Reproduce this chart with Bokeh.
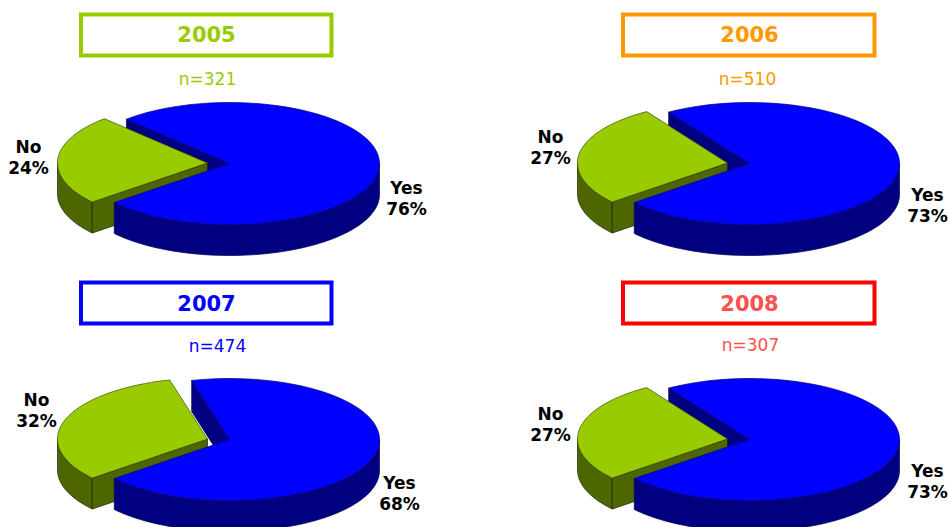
import numpy as np
from bokeh.core.properties import value
from bokeh.embed import file_html
from bokeh.models import Range1d
from bokeh.plotting import figure
from bokeh.resources import INLINE

# data
years = ["2005", "2006", "2007", "2008"]
counts = [321, 510, 474, 307]
yes_pct = [76, 73, 68, 73]
no_pct = [24, 27, 32, 27]

# styles
box_colors = ["#99CC00", "#FF9900", "#0000FF", "#FF0000"]
text_colors = ["#99CC00", "#FF9900", "#0000FF", "#FF5050"]
BLUE, NAVY, GREEN, OLIVE = "#0000FF", "#000080", "#99CC00", "#4D6600"
FONT = value("DejaVu Sans")

# layout (page pixels)
centers_x = [229, 749, 229, 749]
centers_y = [163, 163, 439, 439]
box_x = [(78.5, 333), (620.5, 876), (78.5, 333), (620.5, 876)]
box_y = [(12, 57), (12, 57), (280, 325), (280, 325)]
title_xy = [(206, 33.5), (749, 33.5), (206, 302.5), (749, 302.5)]
n_xy = [(207, 78), (747, 78), (217, 345), (750, 344)]
no_xy = [(28, 146.5), (550, 136.5), (36, 399.5), (550, 413.5)]
yes_xy = [(406, 187.5), (927, 194.5), (399, 482.5), (927, 470.5)]
RX, RY, DEPTH = 150, 61, 31
TIP_DX, TIP_DY = -22, -0.5
CUT = 219.8  # angle where the Yes slice begins, degrees

p = figure(width=949, height=527, output_backend="svg", toolbar_location=None,
           x_range=Range1d(0, 949), y_range=Range1d(527, 0), min_border=0)
p.axis.visible = False
p.grid.visible = False
p.outline_line_color = None
p.styles = {"position": "absolute", "left": "0px", "top": "0px"}


def arc(cx, cy, a0, a1, drop=0.0):
    t = np.radians(np.linspace(a0, a1, 80))
    return cx + RX * np.cos(t), cy - RY * np.sin(t) + drop


def poly(xs, ys, fill, line):
    p.patch(list(xs), list(ys), fill_color=fill, line_color=line, line_width=0.7)


for i in range(4):
    cx, cy = centers_x[i], centers_y[i]
    tx, ty = cx + TIP_DX, cy + TIP_DY
    no_start = CUT - no_pct[i] * 3.6
    yes_end = no_start + 360.0

    # inner face of the Yes slice, seen through the gap
    ex = cx + RX * np.cos(np.radians(no_start))
    ey = cy - RY * np.sin(np.radians(no_start))
    poly([ex, cx, cx, ex], [ey, cy, cy + DEPTH, ey + DEPTH], NAVY, "#000050")

    # No slice: sides, then top
    ax, ay = arc(tx, ty, 180, CUT)
    poly(np.r_[ax, ax[::-1]], np.r_[ay, ay[::-1] + DEPTH], OLIVE, "#1a2200")
    bx, by = ax[-1], ay[-1]
    poly([bx, tx, tx, bx], [by, ty, ty + DEPTH, by + DEPTH], OLIVE, "#1a2200")
    ax, ay = arc(tx, ty, no_start, CUT)
    poly(np.r_[tx, ax], np.r_[ty, ay], GREEN, "#3a4a00")

    # Yes slice: rim, then top
    ax, ay = arc(cx, cy, CUT, 360)
    poly(np.r_[ax, ax[::-1]], np.r_[ay, ay[::-1] + DEPTH], NAVY, "#000050")
    ax, ay = arc(cx, cy, CUT, yes_end)
    poly(np.r_[cx, ax], np.r_[cy, ay], BLUE, "#000080")

    # title box and texts
    x0, x1 = box_x[i]
    y0, y1 = box_y[i]
    p.quad(left=x0 + 2, right=x1 - 2, top=y0 + 2, bottom=y1 - 2, fill_color="white",
           line_color=box_colors[i], line_width=4, line_join="miter")
    p.text([title_xy[i][0]], [title_xy[i][1]], text=[years[i]], text_font=FONT,
           text_font_size="21px", text_font_style="bold", text_color=text_colors[i],
           text_align="center", text_baseline="middle")
    p.text([n_xy[i][0]], [n_xy[i][1]], text=[f"n={counts[i]}"], text_font=FONT,
           text_font_size="17px", text_color=text_colors[i],
           text_align="center", text_baseline="middle")
    for (lx, ly), name, pct in ((no_xy[i], "No", no_pct[i]), (yes_xy[i], "Yes", yes_pct[i])):
        p.text([lx, lx], [ly, ly + 21], text=[name, f"{pct}%"], text_font=FONT,
               text_font_size="17px", text_font_style="bold", text_color="black",
               text_align="center", text_baseline="middle")

open("out.html", "w").write(file_html(p, INLINE))
